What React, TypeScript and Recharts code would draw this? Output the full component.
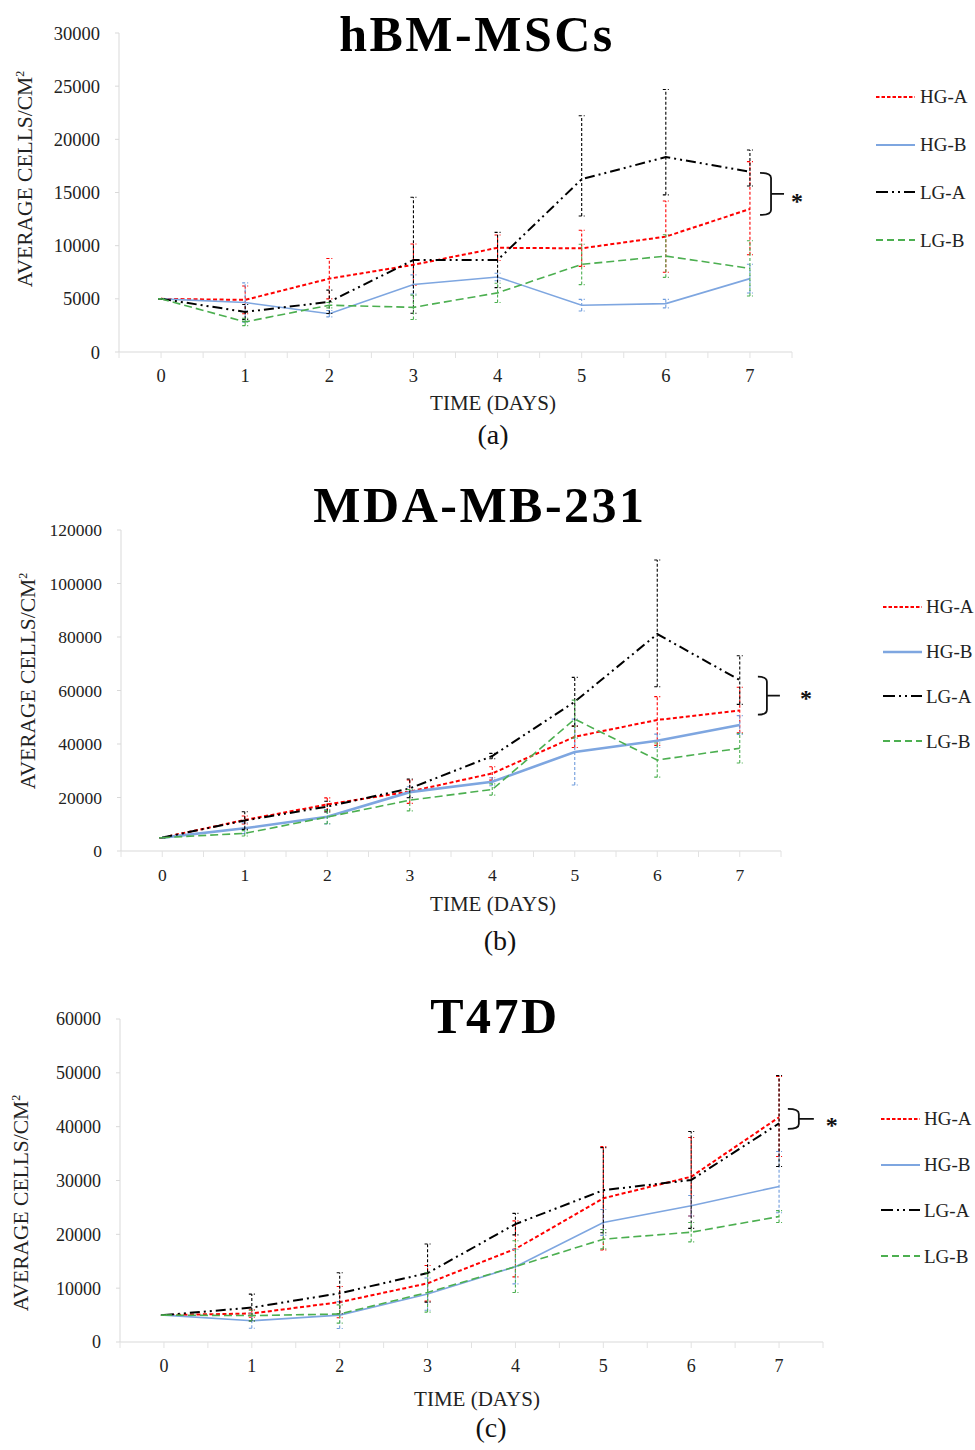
import React from 'react';
import { LineChart, Line, XAxis, YAxis, ErrorBar, Legend, ReferenceDot } from 'recharts';

const FONT = '"Liberation Serif", "Times New Roman", serif';

const DAYS = [0, 1, 2, 3, 4, 5, 6, 7];
const X_TICKS = [-0.5, 0, 0.5, 1, 1.5, 2, 2.5, 3, 3.5, 4, 4.5, 5, 5.5, 6, 6.5, 7, 7.5];
const SERIES_NAMES = ['HG-A', 'HG-B', 'LG-A', 'LG-B'];
const SERIES_KEYS = ['hga', 'hgb', 'lga', 'lgb'];
const CHART_TITLES = ['hBM-MSCs', 'MDA-MB-231', 'T47D'];
const CAPTIONS = ['(a)', '(b)', '(c)'];
const X_TITLE = 'TIME (DAYS)';
const Y_TITLE = 'AVERAGE CELLS/CM';

// ---------- (a) hBM-MSCs ----------
const A_Y_TICKS = [0, 5000, 10000, 15000, 20000, 25000, 30000];
const A_HGA = [5000, 4900, 6900, 8200, 9800, 9750, 10850, 13450];
const A_HGA_ERR = [[0, 0], [1300, 1300], [1900, 1900], [1950, 1950], [1200, 1200], [1700, 1700], [3350, 3350], [4300, 4450]];
const A_HGB = [5000, 4650, 3600, 6350, 7050, 4400, 4550, 6900];
const A_HGB_ERR = [[0, 0], [1850, 1850], [300, 300], [900, 900], [350, 350], [550, 550], [400, 400], [1350, 1350]];
const A_LGA = [5000, 3770, 4720, 8650, 8650, 16250, 18330, 16950];
const A_LGA_ERR = [[0, 0], [700, 700], [1100, 1100], [5000, 5900], [2600, 2600], [3460, 5970], [3550, 6350], [1340, 2050]];
const A_LGB = [5000, 2830, 4400, 4200, 5560, 8240, 9020, 7860];
const A_LGB_ERR = [[0, 0], [350, 350], [250, 250], [1150, 1150], [900, 900], [1900, 1900], [2000, 2000], [2600, 2600]];

// ---------- (b) MDA-MB-231 ----------
const B_Y_TICKS = [0, 20000, 40000, 60000, 80000, 100000, 120000];
const B_HGA = [5000, 11600, 17400, 22200, 29000, 42700, 49000, 52500];
const B_HGA_ERR = [[0, 0], [1500, 1500], [2450, 2450], [4400, 4400], [2500, 2500], [4000, 4000], [9500, 8700], [8300, 8700]];
const B_HGB = [5000, 8500, 12800, 22000, 25900, 37000, 41200, 47100];
const B_HGB_ERR = [[0, 0], [2000, 2000], [2700, 2700], [2000, 2000], [1500, 1500], [12300, 12300], [2500, 2500], [3500, 3500]];
const B_LGA = [5000, 11400, 16600, 23400, 35500, 55800, 81100, 63900];
const B_LGA_ERR = [[0, 0], [3300, 3300], [2000, 2000], [3500, 3500], [1000, 1000], [9100, 9100], [19700, 27700], [9100, 9100]];
const B_LGB = [5000, 6600, 12700, 19000, 23000, 49300, 34000, 38400];
const B_LGB_ERR = [[0, 0], [1000, 1000], [2500, 2500], [4000, 4000], [2100, 2100], [7100, 7100], [6400, 6400], [5500, 5500]];

// ---------- (c) T47D ----------
const C_Y_TICKS = [0, 10000, 20000, 30000, 40000, 50000, 60000];
const C_HGA = [5000, 5300, 7400, 10900, 17300, 26700, 30700, 41750];
const C_HGA_ERR = [[0, 0], [700, 700], [2900, 2900], [3300, 3300], [5200, 5200], [9600, 9600], [7300, 7300], [7300, 7600]];
const C_HGB = [5000, 3950, 5000, 8900, 14000, 22200, 25300, 28900];
const C_HGB_ERR = [[0, 0], [1400, 1400], [2500, 2500], [3000, 3000], [3200, 3200], [2400, 2400], [1900, 1900], [4900, 6500]];
const C_LGA = [5000, 6400, 9050, 12800, 21900, 28200, 30100, 40600];
const C_LGA_ERR = [[0, 0], [2500, 2500], [3800, 3800], [5400, 5400], [2000, 2000], [7900, 7900], [9000, 9000], [8000, 8900]];
const C_LGB = [5000, 4900, 5200, 9200, 14000, 19100, 20400, 23300];
const C_LGB_ERR = [[0, 0], [1000, 1000], [1700, 1700], [3650, 3650], [4800, 4800], [1800, 1800], [1800, 1800], [1100, 1100]];

// significance bracket anchors: [day, value]
const A_BRACKET = [7.12, 14870];
const B_BRACKET = [7.22, 58050];
const C_BRACKET = [7.1, 41430];

function buildRows(hga, hgaE, hgb, hgbE, lga, lgaE, lgb, lgbE) {
  return DAYS.map((d, i) => ({
    day: d,
    hga: hga[i], hgaErr: hgaE[i],
    hgb: hgb[i], hgbErr: hgbE[i],
    lga: lga[i], lgaErr: lgaE[i],
    lgb: lgb[i], lgbErr: lgbE[i],
  }));
}

const STYLES = {
  hga: { stroke: '#ff0000', dash: '4 2.5', width: 2, err: '#ff0000', legendDash: '3.5 2' },
  hgb: { stroke: '#7ea6e0', dash: undefined, width: 1.6, err: '#6f9cdc', legendDash: undefined },
  lga: { stroke: '#000000', dash: '10 4 2 4 2 4', width: 2, err: '#000000', legendDash: '12 4 2 4 2 4' },
  lgb: { stroke: '#4caf50', dash: '8 4', width: 1.6, err: '#4caf50', legendDash: '7 4' },
};

const CHARTS = [
  {
    rows: buildRows(A_HGA, A_HGA_ERR, A_HGB, A_HGB_ERR, A_LGA, A_LGA_ERR, A_LGB, A_LGB_ERR),
    yTicks: A_Y_TICKS, top: 0, height: 470,
    margin: { top: 33, right: 183, bottom: 58, left: 39 },
    yAxisWidth: 80, tickFs: 18.5, hgbWidth: 1.6,
    legend: { left: 876, firstCenter: 97, spacing: 47.7, textGap: 5 },
    bracket: A_BRACKET, br: { w: 11, h: 42, tick: 13, star: 37, starDy: 4 },
    yTitle: { x: 25, y: 179 }, xTitle: { x: 493, y: 410 },
    title: { x: 477, y: 51 }, caption: { x: 493, y: 444 },
  },
  {
    rows: buildRows(B_HGA, B_HGA_ERR, B_HGB, B_HGB_ERR, B_LGA, B_LGA_ERR, B_LGB, B_LGB_ERR),
    yTicks: B_Y_TICKS, top: 470, height: 500,
    margin: { top: 60, right: 194, bottom: 59, left: 41 },
    yAxisWidth: 80, tickFs: 17.5, hgbWidth: 2.6,
    legend: { left: 883, firstCenter: 137, spacing: 44.7, textGap: 4 },
    bracket: B_BRACKET, br: { w: 9, h: 38, tick: 13, star: 48, starDy: -1 },
    yTitle: { x: 28, y: 211 }, xTitle: { x: 493, y: 441 },
    title: { x: 480, y: 522 }, caption: { x: 500, y: 950 },
  },
  {
    rows: buildRows(C_HGA, C_HGA_ERR, C_HGB, C_HGB_ERR, C_LGA, C_LGA_ERR, C_LGB, C_LGB_ERR),
    yTicks: C_Y_TICKS, top: 970, height: 480,
    margin: { top: 49, right: 152, bottom: 48, left: 40 },
    yAxisWidth: 80, tickFs: 18, hgbWidth: 1.6,
    legend: { left: 881, firstCenter: 149, spacing: 45.7, textGap: 4 },
    bracket: C_BRACKET, br: { w: 11, h: 20, tick: 15, star: 44, starDy: 3 },
    yTitle: { x: 21, y: 233 }, xTitle: { x: 477, y: 436 },
    title: { x: 495, y: 1033 }, caption: { x: 491, y: 1437 },
  },
];

function makeXTick(fs) {
  return function XTick(props) {
    const { x, y, payload } = props;
    const v = payload.value;
    const isInt = Math.abs(v - Math.round(v)) < 1e-6;
    return (
      <g>
        <line x1={x} x2={x} y1={y} y2={y + 6} stroke="#e2e2e2" strokeWidth={1} />
        {isInt && (
          <text x={x} y={y + 24} textAnchor="middle" dominantBaseline="central" fontSize={fs} fontFamily={FONT} fill="#222">
            {Math.round(v)}
          </text>
        )}
      </g>
    );
  };
}

function makeBracket(br) {
  return function Bracket(props) {
    const { cx, cy } = props;
    if (cx == null || cy == null) return null;
    const x0 = cx;
    const xw = cx + br.w;
    const top = cy - br.h / 2;
    const bot = cy + br.h / 2;
    const r = Math.min(5, br.h / 4);
    const d = `M ${x0} ${top} Q ${xw} ${top} ${xw} ${top + r} L ${xw} ${bot - r} Q ${xw} ${bot} ${x0} ${bot} M ${xw} ${cy} L ${xw + br.tick} ${cy}`;
    return (
      <g>
        <path d={d} fill="none" stroke="#111" strokeWidth={1.8} />
        <text x={x0 + br.star} y={cy + br.starDy + 11} textAnchor="middle" fontSize={24} fontWeight="bold" fontFamily={FONT} fill="#111">*</text>
      </g>
    );
  };
}

function LegendSample({ k, hgbWidth }) {
  const s = STYLES[k];
  const w = k === 'hgb' ? Math.max(2, hgbWidth) : 2;
  return (
    <svg width={39} height={6} style={{ display: 'block' }}>
      <line x1={0} x2={39} y1={3} y2={3} stroke={s.stroke} strokeWidth={w} strokeDasharray={s.legendDash} />
    </svg>
  );
}

function makeLegend(cfg, hgbWidth) {
  return function LegendContent() {
    return (
      <div style={{ fontFamily: FONT, fontSize: 19, color: '#222' }}>
        {SERIES_KEYS.map((k, i) => (
          <div key={k} style={{ height: cfg.spacing, display: 'flex', alignItems: 'center' }}>
            <LegendSample k={k} hgbWidth={hgbWidth} />
            <span style={{ marginLeft: cfg.textGap, lineHeight: '19px' }}>{SERIES_NAMES[i]}</span>
          </div>
        ))}
      </div>
    );
  };
}

function Panel({ cfg }) {
  const yMax = cfg.yTicks[cfg.yTicks.length - 1];
  const yTitle = cfg.yTitle;
  const xTitle = cfg.xTitle;
  return (
    <div style={{ position: 'absolute', left: 0, top: cfg.top, width: 975, height: cfg.height }}>
      <LineChart width={975} height={cfg.height} data={cfg.rows} margin={cfg.margin}>
        <XAxis
          type="number"
          dataKey="day"
          domain={[-0.5, 7.5]}
          ticks={X_TICKS}
          interval={0}
          allowDataOverflow
          tickSize={0}
          tickMargin={0}
          tickLine={false}
          axisLine={{ stroke: '#d9d9d9' }}
          tick={makeXTick(cfg.tickFs)}
          height={60}
          label={{
            content: () => (
              <text x={xTitle.x} y={xTitle.y} textAnchor="middle" fontSize={21} fontFamily={FONT} fill="#222">{X_TITLE}</text>
            ),
          }}
        />
        <YAxis
          type="number"
          domain={[0, yMax]}
          ticks={cfg.yTicks}
          interval={0}
          allowDataOverflow
          width={cfg.yAxisWidth}
          tickSize={4}
          tickMargin={15}
          tickLine={{ stroke: '#d9d9d9' }}
          axisLine={{ stroke: '#d9d9d9' }}
          tick={{ fontSize: cfg.tickFs, fontFamily: FONT, fill: '#222' }}
          label={{
            content: () => (
              <text transform={`translate(${yTitle.x}, ${yTitle.y}) rotate(-90)`} x={0} y={7} textAnchor="middle" fontSize={21.5} fontFamily={FONT} fill="#222">
                {Y_TITLE}
                <tspan fontSize={12} dy={-8}>2</tspan>
              </text>
            ),
          }}
        />
        {SERIES_KEYS.map((k, i) => {
          const s = STYLES[k];
          return (
            <Line
              key={k}
              name={SERIES_NAMES[i]}
              dataKey={k}
              type="linear"
              stroke={s.stroke}
              strokeWidth={k === 'hgb' ? cfg.hgbWidth : s.width}
              strokeDasharray={s.dash}
              dot={false}
              activeDot={false}
              isAnimationActive={false}
            >
              <ErrorBar dataKey={`${k}Err`} direction="y" width={3} stroke={s.err} strokeWidth={1.1} strokeDasharray="3 2" />
            </Line>
          );
        })}
        <ReferenceDot x={cfg.bracket[0]} y={cfg.bracket[1]} r={1} shape={makeBracket(cfg.br)} ifOverflow="visible" />
        <Legend
          layout="vertical"
          align="center"
          verticalAlign="middle"
          content={makeLegend(cfg.legend, cfg.hgbWidth)}
          wrapperStyle={{ left: cfg.legend.left, top: cfg.legend.firstCenter - cfg.legend.spacing / 2, width: 100 }}
        />
      </LineChart>
    </div>
  );
}

export default function App() {
  return (
    <div style={{ position: 'absolute', left: 0, top: 0, width: 975, height: 1450, background: '#fff' }}>
      {CHARTS.map((c, i) => (
        <Panel key={i} cfg={c} />
      ))}
      <svg width={975} height={1450} style={{ position: 'absolute', left: 0, top: 0, pointerEvents: 'none' }}>
        {CHARTS.map((c, i) => (
          <g key={i}>
            <text x={c.title.x} y={c.title.y} textAnchor="middle" fontSize={50} fontWeight="bold" letterSpacing={2.5} fontFamily={FONT} fill="#000">
              {CHART_TITLES[i]}
            </text>
            <text x={c.caption.x} y={c.caption.y} textAnchor="middle" fontSize={28} fontFamily={FONT} fill="#111">
              {CAPTIONS[i]}
            </text>
          </g>
        ))}
      </svg>
    </div>
  );
}
